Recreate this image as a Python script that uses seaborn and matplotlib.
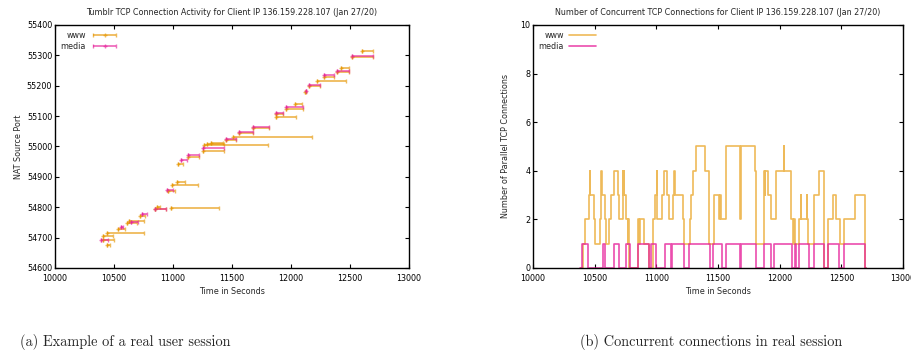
import matplotlib
matplotlib.use("Agg")
import matplotlib.pyplot as plt
from matplotlib.container import ErrorbarContainer
from matplotlib.legend_handler import HandlerErrorbar
import seaborn as sns
import pandas as pd

# left panel: connection intervals (NAT port, start, end)
www_port = [54675, 54693, 54705, 54714, 54728, 54747, 54756, 54771, 54793, 54800,
            54796, 54852, 54874, 54884, 54941, 54967, 54986, 55005, 55008, 55012,
            55021, 55032, 55044, 55060, 55098, 55106, 55124, 55140, 55178, 55198,
            55217, 55230, 55246, 55260, 55294, 55316]
www_start = [10443, 10409, 10409, 10440, 10536, 10612, 10629, 10717, 10847, 10864,
             10980, 10954, 10993, 11030, 11044, 11129, 11256, 11264, 11284, 11318,
             11448, 11510, 11558, 11679, 11871, 11871, 11956, 12032, 12122, 12153,
             12219, 12278, 12390, 12427, 12517, 12605]
www_end = [10462, 10502, 10494, 10754, 10593, 10697, 10757, 10759, 10940, 10889,
           11391, 11013, 11213, 11101, 11087, 11222, 11431, 11806, 11431, 11425,
           11530, 12179, 11674, 11812, 12040, 11933, 12103, 12097, 12130, 12244,
           12464, 12365, 12492, 12492, 12695, 12695]

media_port = [54693, 54736, 54753, 54777, 54795, 54857, 54956, 54972, 54994, 55025,
              55048, 55065, 55109, 55129, 55184, 55202, 55235, 55249, 55299]
media_start = [10389, 10556, 10646, 10734, 10847, 10946, 11064, 11129, 11256, 11448,
               11558, 11679, 11871, 11956, 12123, 12153, 12278, 12390, 12517]
media_end = [10446, 10579, 10703, 10782, 10940, 11002, 11115, 11222, 11431, 11530,
             11674, 11812, 11933, 12103, 12128, 12244, 12365, 12492, 12695]

# right panel: concurrent connections (step-post)
www_t = [10390, 10405, 10419, 10451, 10459, 10465, 10497, 10505, 10546, 10549,
         10555, 10560, 10586, 10594, 10613, 10632, 10654, 10689, 10697, 10727,
         10733, 10737, 10740, 10757, 10767, 10772, 10778, 10851, 10857, 10870,
         10897, 10940, 10970, 10989, 11003, 11007, 11046, 11059, 11086, 11102,
         11132, 11144, 11148, 11213, 11221, 11270, 11284, 11297, 11324, 11392,
         11430, 11465, 11505, 11513, 11524, 11567, 11675, 11683, 11803, 11812,
         11870, 11873, 11878, 11880, 11905, 11930, 11973, 12032, 12036, 12092,
         12105, 12119, 12127, 12154, 12171, 12175, 12220, 12224, 12230, 12278,
         12316, 12360, 12390, 12430, 12459, 12486, 12522, 12610, 12689, 12700]
www_n = [0, 1, 2, 3, 4, 3, 2, 1, 2, 3,
         4, 3, 2, 1, 2, 3, 4, 3, 2, 4,
         3, 4, 3, 2, 1, 2, 0, 2, 1, 2,
         1, 0, 2, 3, 4, 2, 3, 4, 3, 2,
         3, 4, 3, 2, 1, 2, 3, 4, 5, 4,
         1, 3, 2, 3, 2, 5, 2, 5, 4, 1,
         3, 4, 3, 4, 3, 2, 4, 5, 4, 2,
         1, 2, 1, 2, 3, 2, 3, 2, 1, 3,
         4, 0, 2, 3, 2, 1, 2, 3, 0, 0]

media_t = [10380, 10400, 10446, 10568, 10581, 10654, 10695, 10757, 10789, 10850,
           10941, 10960, 11000, 11073, 11119, 11130, 11222, 11262, 11432, 11458,
           11535, 11566, 11675, 11684, 11811, 11875, 11932, 11958, 12100, 12125,
           12132, 12155, 12240, 12279, 12359, 12394, 12485, 12522, 12689, 12700]
media_n = [0, 1, 0, 1, 0, 1, 0, 1, 0, 1,
           0, 1, 0, 1, 0, 1, 0, 1, 0, 1,
           0, 1, 0, 1, 0, 1, 0, 1, 0, 1,
           0, 1, 0, 1, 0, 1, 0, 1, 0, 0]

WWW_COLOR = "#e69500"
MEDIA_COLOR = "#e6209a"

sns.set_theme(style="ticks")
plt.rcParams["font.family"] = ["DejaVu Sans"]
plt.rcParams["xtick.direction"] = "in"
plt.rcParams["ytick.direction"] = "in"
plt.rcParams["xtick.top"] = True
plt.rcParams["ytick.right"] = True
plt.rcParams["xtick.major.size"] = 3
plt.rcParams["ytick.major.size"] = 3
plt.rcParams["xtick.major.width"] = 0.8
plt.rcParams["ytick.major.width"] = 0.8
plt.rcParams["axes.linewidth"] = 1.0
plt.rcParams["axes.edgecolor"] = "black"

fig = plt.figure(figsize=(9.12, 3.58), dpi=100)
ax1 = fig.add_axes([0.0603, 0.2514, 0.3882, 0.6788])
ax2 = fig.add_axes([0.5844, 0.2514, 0.4057, 0.6788])

fs = 5.8

# ---- left: connection activity ----
def intervals(ax, port, start, end, color, label):
    dur = [e - s for s, e in zip(start, end)]
    ax.errorbar(start, port, xerr=[[0] * len(dur), dur], fmt="+", color=color,
                ecolor=color, elinewidth=1.3, capsize=1.6, capthick=1.0,
                markersize=3.5, markeredgewidth=1.0, alpha=0.65, label=label)

intervals(ax1, www_port, www_start, www_end, WWW_COLOR, "www")
intervals(ax1, media_port, media_start, media_end, MEDIA_COLOR, "media")
ax1.set_xlim(10000, 13000)
ax1.set_ylim(54600, 55400)
ax1.set_xticks(range(10000, 13001, 500))
ax1.set_yticks(range(54600, 55401, 100))
ax1.tick_params(labelsize=fs, pad=2, colors="black")
ax1.tick_params(axis="x", pad=4)
ax1.set_xlabel("Time in Seconds", fontsize=fs, labelpad=3)
ax1.set_ylabel("NAT Source Port", fontsize=fs, labelpad=3)
ax1.set_title("Tumblr TCP Connection Activity for Client IP 136.159.228.107 (Jan 27/20)",
              fontsize=fs, pad=7)
ax1.legend(loc="upper left", frameon=False, fontsize=fs, markerfirst=False,
           handlelength=3.4, handletextpad=0.6, borderaxespad=0.3,
           labelspacing=0.25, bbox_to_anchor=(0.0, 1.0),
           handler_map={ErrorbarContainer: HandlerErrorbar(xerr_size=1.45)})

# ---- right: concurrent connections ----
df_www = pd.DataFrame({"t": www_t, "n": www_n})
df_media = pd.DataFrame({"t": media_t, "n": media_n})
sns.lineplot(data=df_www, x="t", y="n", ax=ax2, color=WWW_COLOR, alpha=0.65,
             linewidth=1.2, drawstyle="steps-post", estimator=None, sort=False,
             label="www")
sns.lineplot(data=df_media, x="t", y="n", ax=ax2, color=MEDIA_COLOR, alpha=0.8,
             linewidth=1.2, drawstyle="steps-post", estimator=None, sort=False,
             label="media")
ax2.set_xlim(10000, 13000)
ax2.set_ylim(0, 10)
ax2.set_xticks(range(10000, 13001, 500))
ax2.set_yticks(range(0, 11, 2))
ax2.tick_params(labelsize=fs, pad=2, colors="black")
ax2.tick_params(axis="x", pad=4)
ax2.set_xlabel("Time in Seconds", fontsize=fs, labelpad=3)
ax2.set_ylabel("Number of Parallel TCP Connections", fontsize=fs, labelpad=7)
ax2.set_title("Number of Concurrent TCP Connections for Client IP 136.159.228.107 (Jan 27/20)",
              fontsize=fs, pad=7)
ax2.legend(loc="upper left", frameon=False, fontsize=fs, markerfirst=False,
           handlelength=3.4, handletextpad=0.6, borderaxespad=0.3,
           labelspacing=0.25, bbox_to_anchor=(0.0, 1.0))

# captions
fig.text(20 / 912, 1 - 342 / 358, "(a) Example of a real user session",
         fontsize=10.3, family="cmr10", ha="left", va="center")
fig.text(580 / 912, 1 - 342 / 358, "(b) Concurrent connections in real session",
         fontsize=10.3, family="cmr10", ha="left", va="center")

fig.savefig("out.png", dpi=100)
